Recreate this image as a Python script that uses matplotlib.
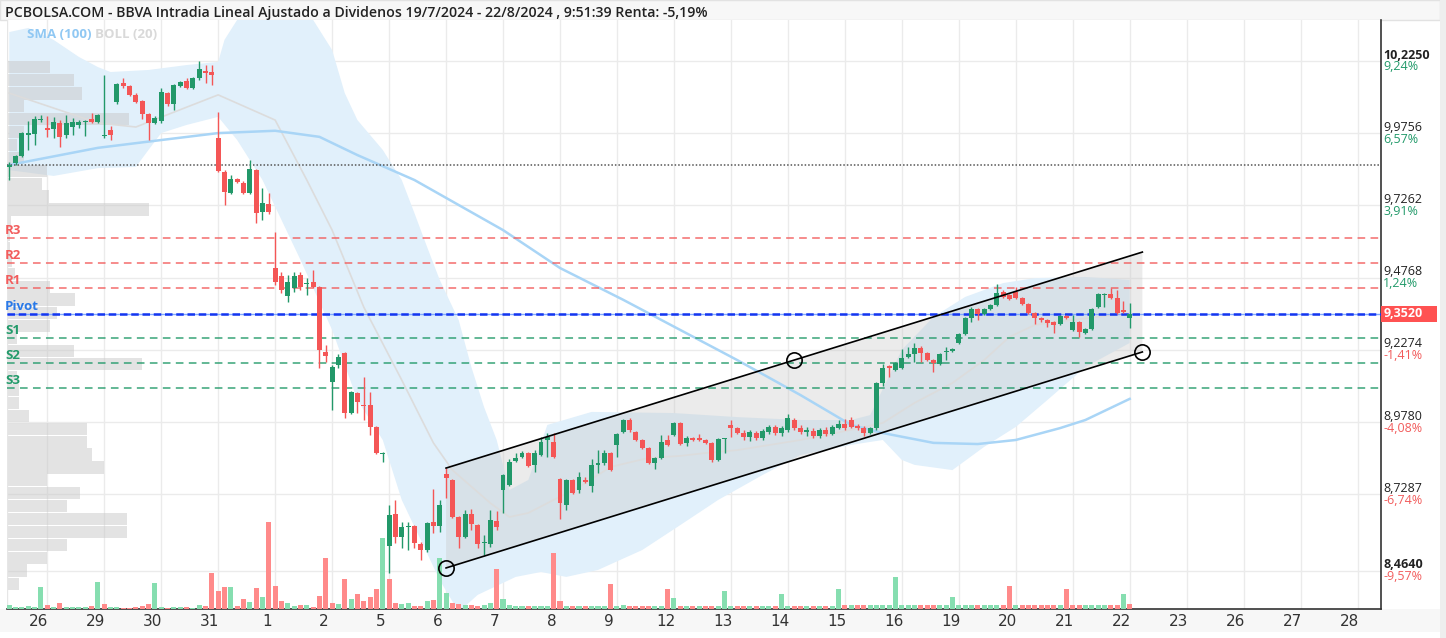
import numpy as np
import matplotlib
matplotlib.use("Agg")
import matplotlib.pyplot as plt
from matplotlib.patches import Rectangle

# ---- candles (hourly, 9 per session, first visible candle = 25/7 late session)
opens = [9.859, 9.873, 9.897, 9.969, 9.973, 10.021, 9.994, 9.990, 10.011, 9.969,
         9.997, 10.004, 10.014, 10.025, 10.014, 9.966, 9.987, 10.083, 10.149, 10.139,
         10.108, 10.087, 10.042, 10.011, 10.018, 10.114, 10.076, 10.139, 10.156, 10.132,
         10.166, 10.190, 10.187, 9.959, 9.842, 9.769, 9.817, 9.804, 9.769, 9.849,
         9.703, 9.731, 9.510, 9.482, 9.413, 9.441, 9.486, 9.455, 9.462, 9.444,
         9.220, 9.116, 9.175, 9.216, 9.009, 9.078, 9.037, 9.037, 8.961, 8.868,
         8.550, 8.660, 8.581, 8.615, 8.619, 8.557, 8.536, 8.633, 8.619, 8.798,
         8.778, 8.650, 8.581, 8.660, 8.622, 8.560, 8.557, 8.636, 8.743, 8.760,
         8.843, 8.857, 8.871, 8.830, 8.864, 8.916, 8.909, 8.781, 8.691, 8.778,
         8.743, 8.778, 8.757, 8.830, 8.836, 8.871, 8.899, 8.944, 8.985, 8.944,
         8.916, 8.888, 8.836, 8.854, 8.916, 8.933, 8.975, 8.905, 8.923, 8.923,
         8.916, 8.905, 8.847, 8.919, 8.968, 8.957, 8.940, 8.926, 8.940, 8.923,
         8.944, 8.961, 8.940, 8.951, 8.985, 8.957, 8.944, 8.947, 8.930, 8.951,
         8.937, 8.957, 8.971, 8.985, 8.964, 8.957, 8.940, 8.957, 9.113, 9.171,
         9.158, 9.165, 9.202, 9.213, 9.234, 9.216, 9.192, 9.178, 9.220, 9.223,
         9.251, 9.282, 9.337, 9.368, 9.351, 9.368, 9.382, 9.427, 9.417, 9.427,
         9.406, 9.386, 9.355, 9.337, 9.330, 9.323, 9.317, 9.344, 9.296, 9.323,
         9.286, 9.299, 9.375, 9.417, 9.420, 9.406, 9.365, 9.337]
closes = [9.866, 9.897, 9.976, 9.976, 10.025, 10.025, 9.987, 10.014, 9.963, 10.011,
          10.014, 10.014, 10.018, 10.014, 10.039, 9.969, 9.969, 10.146, 10.139, 10.108,
          10.083, 10.042, 10.011, 10.028, 10.118, 10.076, 10.142, 10.152, 10.132, 10.166,
          10.197, 10.184, 10.177, 9.845, 9.773, 9.817, 9.807, 9.769, 9.852, 9.700,
          9.735, 9.703, 9.462, 9.434, 9.462, 9.482, 9.444, 9.458, 9.444, 9.227,
          9.206, 9.168, 9.202, 9.009, 9.082, 9.047, 9.033, 8.961, 8.871, 8.871,
          8.657, 8.581, 8.615, 8.619, 8.560, 8.536, 8.629, 8.619, 8.691, 8.785,
          8.650, 8.581, 8.660, 8.626, 8.557, 8.564, 8.640, 8.615, 8.795, 8.840,
          8.854, 8.871, 8.826, 8.871, 8.909, 8.926, 8.857, 8.698, 8.778, 8.733,
          8.788, 8.771, 8.830, 8.836, 8.871, 8.812, 8.937, 8.985, 8.951, 8.916,
          8.888, 8.836, 8.854, 8.909, 8.899, 8.975, 8.902, 8.923, 8.916, 8.916,
          8.905, 8.847, 8.919, 8.923, 8.957, 8.940, 8.926, 8.944, 8.923, 8.947,
          8.961, 8.940, 8.957, 8.992, 8.957, 8.944, 8.951, 8.930, 8.951, 8.937,
          8.961, 8.971, 8.957, 8.961, 8.957, 8.940, 8.957, 9.113, 9.165, 9.165,
          9.182, 9.199, 9.213, 9.234, 9.216, 9.192, 9.182, 9.213, 9.223, 9.230,
          9.282, 9.337, 9.368, 9.351, 9.368, 9.382, 9.424, 9.410, 9.403, 9.406,
          9.386, 9.355, 9.337, 9.330, 9.320, 9.313, 9.344, 9.337, 9.323, 9.289,
          9.299, 9.368, 9.420, 9.420, 9.406, 9.355, 9.358, 9.352]
highs = [9.876, 9.900, 9.980, 10.018, 10.035, 10.039, 10.035, 10.032, 10.021, 10.039,
         10.028, 10.021, 10.021, 10.046, 10.042, 10.177, 10.001, 10.149, 10.166, 10.142,
         10.114, 10.090, 10.046, 10.035, 10.132, 10.118, 10.146, 10.156, 10.166, 10.170,
         10.225, 10.211, 10.211, 10.049, 9.849, 9.831, 9.821, 9.811, 9.883, 9.852,
         9.786, 9.769, 9.634, 9.496, 9.486, 9.496, 9.496, 9.475, 9.503, 9.448,
         9.244, 9.175, 9.213, 9.220, 9.085, 9.082, 9.134, 9.082, 8.964, 8.874,
         8.691, 8.709, 8.633, 8.633, 8.622, 8.564, 8.633, 8.747, 8.709, 8.819,
         8.781, 8.653, 8.674, 8.677, 8.626, 8.588, 8.674, 8.671, 8.798, 8.850,
         8.871, 8.878, 8.874, 8.881, 8.926, 8.940, 8.940, 8.785, 8.781, 8.781,
         8.805, 8.788, 8.850, 8.881, 8.881, 8.874, 8.940, 8.988, 8.992, 8.947,
         8.919, 8.892, 8.857, 8.933, 8.933, 8.978, 8.978, 8.930, 8.926, 8.937,
         8.919, 8.909, 8.923, 8.923, 8.985, 8.961, 8.951, 8.951, 8.947, 8.954,
         8.968, 8.968, 8.964, 9.006, 8.992, 8.968, 8.961, 8.957, 8.957, 8.961,
         8.968, 8.985, 8.988, 8.995, 8.971, 8.964, 8.961, 9.116, 9.178, 9.175,
         9.185, 9.230, 9.237, 9.251, 9.241, 9.220, 9.196, 9.216, 9.237, 9.234,
         9.286, 9.341, 9.375, 9.372, 9.372, 9.386, 9.455, 9.434, 9.420, 9.444,
         9.410, 9.389, 9.358, 9.341, 9.334, 9.327, 9.348, 9.348, 9.348, 9.327,
         9.303, 9.372, 9.424, 9.424, 9.441, 9.434, 9.396, 9.389]
lows = [9.814, 9.866, 9.894, 9.918, 9.935, 10.014, 9.963, 9.959, 9.928, 9.959,
        9.969, 9.994, 9.966, 10.011, 10.011, 9.959, 9.952, 10.076, 10.132, 10.104,
        10.080, 10.025, 9.952, 10.007, 10.011, 10.069, 10.056, 10.135, 10.128, 10.128,
        10.159, 10.149, 10.142, 9.842, 9.728, 9.766, 9.804, 9.766, 9.766, 9.665,
        9.676, 9.696, 9.451, 9.424, 9.393, 9.427, 9.434, 9.417, 9.441, 9.165,
        9.185, 9.020, 9.165, 8.992, 9.006, 9.009, 8.985, 8.933, 8.868, 8.840,
        8.457, 8.560, 8.543, 8.536, 8.543, 8.501, 8.529, 8.595, 8.598, 8.716,
        8.646, 8.543, 8.577, 8.605, 8.543, 8.519, 8.546, 8.605, 8.664, 8.757,
        8.840, 8.854, 8.823, 8.805, 8.861, 8.857, 8.854, 8.643, 8.674, 8.729,
        8.733, 8.767, 8.736, 8.802, 8.830, 8.809, 8.857, 8.940, 8.944, 8.912,
        8.885, 8.833, 8.816, 8.850, 8.895, 8.930, 8.899, 8.895, 8.912, 8.912,
        8.902, 8.840, 8.843, 8.871, 8.926, 8.937, 8.916, 8.912, 8.916, 8.916,
        8.937, 8.933, 8.930, 8.944, 8.951, 8.937, 8.930, 8.923, 8.923, 8.930,
        8.933, 8.954, 8.951, 8.957, 8.951, 8.930, 8.937, 8.951, 9.102, 9.133,
        9.154, 9.161, 9.199, 9.185, 9.185, 9.189, 9.151, 9.175, 9.192, 9.220,
        9.248, 9.279, 9.323, 9.330, 9.348, 9.365, 9.379, 9.406, 9.399, 9.403,
        9.382, 9.351, 9.317, 9.323, 9.306, 9.286, 9.313, 9.334, 9.292, 9.272,
        9.282, 9.296, 9.372, 9.375, 9.403, 9.351, 9.355, 9.303]
volume = [4, 2, 2, 3, 2, 22, 4, 2, 6, 2,
          2, 2, 2, 3, 27, 5, 2, 2, 1, 1,
          2, 3, 5, 26, 2, 1, 2, 2, 2, 1,
          4, 3, 36, 18, 22, 22, 3, 10, 7, 21,
          12, 87, 23, 8, 6, 3, 4, 4, 2, 13,
          51, 6, 5, 30, 10, 15, 8, 12, 20, 71,
          30, 6, 5, 6, 3, 3, 8, 9, 51, 16,
          6, 5, 4, 4, 3, 4, 6, 40, 10, 4,
          3, 3, 3, 3, 3, 3, 56, 8, 3, 3,
          3, 3, 3, 3, 3, 25, 3, 4, 3, 3,
          3, 3, 3, 3, 20, 11, 3, 3, 3, 3,
          3, 3, 3, 18, 3, 3, 3, 3, 3, 3,
          3, 3, 15, 3, 3, 3, 3, 3, 3, 3,
          3, 20, 4, 4, 4, 4, 4, 4, 4, 4,
          32, 4, 4, 4, 4, 4, 4, 4, 4, 12,
          4, 4, 4, 4, 4, 4, 4, 4, 23, 4,
          4, 4, 4, 4, 4, 4, 4, 20, 4, 4,
          4, 4, 4, 4, 4, 4, 15, 5]

# ---- indicators (candle index, price)
sma_idx = [0, 14, 24, 33, 42, 49, 55, 64, 78, 87, 97, 106, 115, 125, 133, 138, 146, 153, 159, 166, 170, 177]
sma_val = [9.866, 9.925, 9.952, 9.976, 9.984, 9.963, 9.900, 9.814, 9.641, 9.510, 9.400, 9.296, 9.192, 9.071,
           8.968, 8.940, 8.906, 8.902, 8.916, 8.957, 8.985, 9.058]
boll_up_idx = [0, 3, 7, 11, 14, 16, 22, 28, 33, 34, 36, 38, 43, 46, 48, 51, 53, 55, 59, 62, 64, 66, 68, 71,
               73, 75, 77, 79, 82, 85, 92, 105, 115, 125, 133, 136, 141, 146, 151, 157, 162, 170, 177]
boll_up = [10.325, 10.339, 10.298, 10.239, 10.204, 10.187, 10.194, 10.211, 10.222, 10.298, 10.367, 10.401,
           10.436, 10.418, 10.367, 10.263, 10.114, 10.021, 9.918, 9.814, 9.700, 9.583, 9.469, 9.330,
           9.168, 9.030, 8.916, 8.743, 8.778, 8.968, 9.013, 9.009, 8.995, 8.985, 8.985, 9.002,
           9.227, 9.341, 9.410, 9.458, 9.475, 9.479, 9.469]
boll_lo_idx = [0, 7, 14, 20, 22, 24, 28, 33, 36, 40, 46, 51, 55, 59, 62, 65, 68, 71, 74, 80, 84, 88, 93,
               100, 106, 112, 119, 125, 133, 138, 141, 143, 149, 154, 159, 164, 170, 177]
boll_lo = [9.848, 9.828, 9.855, 9.859, 9.918, 9.976, 10.004, 10.032, 9.952, 9.814, 9.538, 9.296, 9.054,
           8.916, 8.709, 8.571, 8.432, 8.322, 8.381, 8.443, 8.460, 8.443, 8.467, 8.536, 8.622, 8.709,
           8.795, 8.864, 8.899, 8.916, 8.847, 8.830, 8.812, 8.892, 8.961, 9.054, 9.168, 9.251]
boll_mid_idx = [0, 14, 20, 33, 42, 47, 51, 56, 62, 67, 70, 76, 79, 82, 86, 90, 95, 101, 106, 110, 115,
                125, 133, 138, 143, 149, 154, 158, 162, 165, 177]
boll_mid = [10.114, 10.011, 9.997, 10.108, 10.021, 9.814, 9.641, 9.375, 9.123, 8.906, 8.812, 8.698,
            8.650, 8.664, 8.709, 8.753, 8.823, 8.854, 8.861, 8.871, 8.881, 8.916, 8.951, 8.975,
            9.044, 9.113, 9.192, 9.272, 9.313, 9.323, 9.354]

# volume profile (price bin centre, relative volume)
prof_price = [10.203, 10.158, 10.113, 10.069, 10.024, 9.980, 9.935, 9.891, 9.846, 9.801, 9.757, 9.712,
              9.668, 9.623, 9.579, 9.534, 9.490, 9.445, 9.401, 9.356, 9.311, 9.267, 9.222, 9.178,
              9.133, 9.089, 9.044, 9.000, 8.955, 8.910, 8.866, 8.821, 8.777, 8.732, 8.688, 8.643,
              8.599, 8.554, 8.509, 8.465, 8.420]
prof_vol = [43, 67, 75, 17, 122, 17, 10, 17, 40, 35, 42, 142, 4, 3, 3, 5, 8, 43, 68, 50, 43, 10, 67, 135,
            10, 12, 12, 22, 80, 80, 85, 97, 40, 73, 60, 120, 120, 60, 40, 20, 12]

# pivot levels
piv_names = ["R3", "R2", "R1", "Pivot", "S1", "S2", "S3"]
piv_vals = [9.614, 9.527, 9.441, 9.352, 9.268, 9.182, 9.096]
piv_colors = ["#f25c5c", "#f25c5c", "#f25c5c", "#2979e8", "#229a6a", "#229a6a", "#229a6a"]

# regression channel: start / end candle and prices
chan_idx = [69, 179]
chan_upper = [8.819, 9.565]
chan_lower = [8.474, 9.220]
chan_mid_idx = 124

ref_price = 9.866
last_price = 9.352

tick_prices = [10.2250, 9.9756, 9.7262, 9.4768, 9.2274, 8.9780, 8.7287, 8.4640]
tick_pct = ["9,24%", "6,57%", "3,91%", "1,24%", "-1,41%", "-4,08%", "-6,74%", "-9,57%"]
day_labels = ["26", "29", "30", "31", "1", "2", "5", "6", "7", "8", "9", "12", "13", "14", "15", "16",
              "19", "20", "21", "22", "23", "26", "27", "28"]

GREEN = "#229869"
RED = "#f45656"

W, H = 1446, 638
fig = plt.figure(figsize=(W / 100, H / 100), dpi=100)
fig.patch.set_facecolor("white")

# frame pieces (title bar, bottom band) behind the axes
fig.add_artist(Rectangle((0, (H - 20) / H), 1440 / W, 20 / H, transform=fig.transFigure,
                         facecolor="#f7f7f7", edgecolor="#e2e2e2", lw=1, zorder=-1))
fig.add_artist(Rectangle((0, 6 / H), 1440 / W, 23 / H, transform=fig.transFigure,
                         facecolor="#f7f7f7", edgecolor="none", zorder=-1))
fig.add_artist(Rectangle((1440 / W, 0), 6 / W, 1, transform=fig.transFigure,
                         facecolor="#eeeeee", edgecolor="none", zorder=-1))

ax = fig.add_axes([7 / W, 29 / H, (1381 - 7) / W, (609 - 20) / H])
YMIN, YMAX = 8.3322, 10.3666
ax.set_xlim(-0.36, 216.7)
ax.set_ylim(YMIN, YMAX)

idx = np.arange(len(closes))
o = np.array(opens); c = np.array(closes); h = np.array(highs); l = np.array(lows)

# grid
for d in range(len(day_labels)):
    ax.axvline(6 + 9 * d, color="#ebebeb", lw=1, zorder=0.5)
for p in tick_prices:
    ax.axhline(p, color="#ebebeb", lw=1, zorder=0.5)

# bollinger band
ax.fill(np.r_[boll_up_idx, boll_lo_idx[::-1]], np.r_[boll_up, boll_lo[::-1]],
        facecolor="#e1f0fb", edgecolor="none", zorder=1)
ax.plot(boll_mid_idx, boll_mid, color="#dcdcdc", lw=1.2, zorder=2.5)
ax.plot(sma_idx, sma_val, color="#a9d5f6", lw=1.8, zorder=2.5)

# volume profile on the left
px_x = 1 / 6.33
ax.barh(prof_price, np.array(prof_vol) * px_x, height=0.042, left=-0.36,
        color="#c8c8c8", alpha=0.5, zorder=1.5, linewidth=0)

# regression channel
ax.fill([chan_idx[0], chan_idx[1], chan_idx[1], chan_idx[0]],
        [chan_upper[0], chan_upper[1], chan_lower[1], chan_lower[0]],
        facecolor=(200 / 255, 200 / 255, 200 / 255, 0.36), edgecolor="none", zorder=2)
ax.plot(chan_idx, chan_upper, color="black", lw=1.2, zorder=5)
ax.plot(chan_idx, chan_lower, color="black", lw=1.2, zorder=5)
mid_up = np.interp(chan_mid_idx, chan_idx, chan_upper)
ax.plot([chan_idx[0], chan_mid_idx, chan_idx[1]], [chan_lower[0], mid_up, chan_lower[1]],
        ls="none", marker="o", ms=11, mfc="none", mec="black", mew=1.2, zorder=6)

# pivot lines
for name, v, col in zip(piv_names, piv_vals, piv_colors):
    if name == "Pivot":
        ax.axhline(v, color="#7fa8ff", lw=1, zorder=3)
        ax.axhline(v, color="#1436f0", lw=1.8, ls=(0, (3, 1.5)), zorder=3)
    else:
        ax.axhline(v, color=col, lw=1.1, ls=(0, (5, 3.5)), alpha=0.9, zorder=3)
    ax.annotate(name, xy=(0, v), xycoords=("axes fraction", "data"), xytext=(-1.5, 5.5),
                textcoords="offset points", ha="left", va="center", color=col,
                fontsize=9.5, fontweight="bold", family="Open Sans", zorder=7)

ax.axhline(ref_price, color="#555555", lw=1.1, ls=(0, (1, 1.3)), zorder=3)

# volume bars (colour by change vs previous close)
prev = np.r_[c[0], c[:-1]]
vcol = np.where(c >= prev, "#86deb0", "#ff8a8a")
px_y = (YMAX - YMIN) / 589
ax.bar(idx, np.array(volume) * px_y, bottom=YMIN, width=0.8, color=vcol, zorder=3, linewidth=0)

# candles
ccol = np.where(c >= o, GREEN, RED)
ax.vlines(idx, l, h, colors=ccol, lw=1, zorder=4)
body = np.maximum(np.abs(c - o), 0.0035)
ax.bar(idx, body, bottom=np.minimum(o, c), width=0.78, color=ccol, zorder=4.5, linewidth=0)

# axes styling
ax.set_xticks([])
ax.set_yticks([])
for s in ["top", "left"]:
    ax.spines[s].set_visible(False)
ax.spines["right"].set_color("#333333")
ax.spines["bottom"].set_color("#333333")
ax.spines["right"].set_linewidth(1.2)
ax.spines["bottom"].set_linewidth(1.2)
ax.axvline(-0.36, color="#e6e6e6", lw=1)

# x labels
xt = ax.get_xaxis_transform()
for d, lab in enumerate(day_labels):
    ax.text(4.7 + 9 * d, -13 / 589, lab, transform=xt, ha="center", va="center", fontsize=11,
            family=["Liberation Sans Narrow", "DejaVu Sans"], color="#333333", clip_on=False)

# right price labels
yt = ax.get_yaxis_transform()
for p, pct in zip(tick_prices, tick_pct):
    bold = p in (tick_prices[0], tick_prices[-1])
    ax.annotate(f"{p:.4f}".replace(".", ","), xy=(1, p), xycoords=yt,
                xytext=(1.5, 4.3), textcoords="offset points", ha="left", va="center",
                fontsize=9, family="Open Sans", color="#222222",
                fontweight="bold" if bold else "normal")
    ax.annotate(pct, xy=(1, p), xycoords=yt, xytext=(1.5, -4.3),
                textcoords="offset points", ha="left", va="center", fontsize=9,
                family="Open Sans", color="#229a6a" if not pct.startswith("-") else "#f25c5c")

box_h = 16 * (YMAX - YMIN) / 589
ax.add_patch(Rectangle((1.0, last_price - box_h / 2), 56 / 1374, box_h, transform=yt,
                       facecolor="#ff5252", edgecolor="none", clip_on=False, zorder=8))
ax.annotate(f"{last_price:.4f}".replace(".", ","), xy=(1, last_price), xycoords=yt,
            xytext=(2, 0), textcoords="offset points", ha="left", va="center", fontsize=9,
            family="Open Sans", fontweight="bold", color="white", zorder=9)

# title and legend
fig.text(5 / W, (H - 13) / H, "PCBOLSA.COM - BBVA Intradia Lineal Ajustado a Dividenos 19/7/2024 - 22/8/2024 , 9:51:39 Renta: -5,19%",
         fontsize=10.2, family="Open Sans", fontweight="semibold", color="#222222", va="center")
fig.text(27 / W, (H - 34) / H, "SMA (100)", fontsize=9.5, family="Open Sans", fontweight="bold",
         color="#90c8f3", va="center")
fig.text(95 / W, (H - 34) / H, "BOLL (20)", fontsize=9.5, family="Open Sans", fontweight="bold",
         color="#d9d9d9", va="center")

fig.savefig("out.png", dpi=100)
